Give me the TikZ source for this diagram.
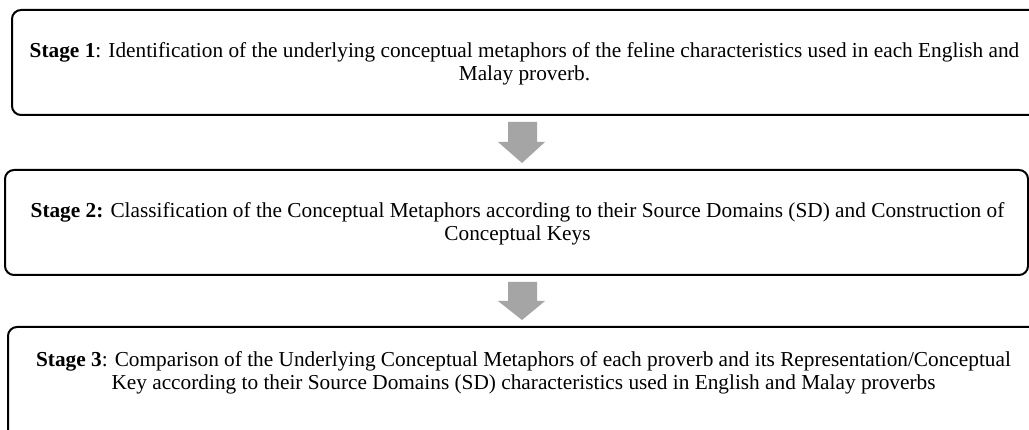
\documentclass[tikz,border=0pt]{standalone}
\usepackage{fontspec}
\setmainfont{Liberation Serif}
\definecolor{arrowgray}{HTML}{A5A5A5}
\tikzset{
  stagebox/.style={draw=black, line width=2pt, rounded corners=9pt},
  stagetext/.style={align=center, font=\fontsize{21.3}{23}\selectfont, inner sep=0pt},
  blockarrow/.style={fill=arrowgray, draw=none}
}
\begin{document}
\begin{tikzpicture}[x=1pt,y=1pt]
\useasboundingbox (0,0) rectangle (1029,-430);
\clip (0,0) rectangle (1029,-430);
\fill[white] (0,0) rectangle (1029,-430);
% boxes
\draw[stagebox] (12,-10) rectangle (1045,-115);
\draw[stagebox] (5,-170) rectangle (1028,-275);
\draw[stagebox] (8,-327) rectangle (1045,-445);
% texts
\node[stagetext] (t1) at (524.5,-63.5) {\textbf{Stage 1}: Identification of the underlying conceptual metaphors of the feline characteristics used in each English and\\ Malay proverb.};
\node[stagetext] (t2) at (517.5,-223.5) {\textbf{Stage 2:} Classification of the Conceptual Metaphors according to their Source Domains (SD) and Construction of\\ Conceptual Keys};
\node[stagetext] (t3) at (523.5,-372.5) {\textbf{Stage 3}: Comparison of the Underlying Conceptual Metaphors of each proverb and its Representation/Conceptual\\ Key according to their Source Domains (SD) characteristics used in English and Malay proverbs};
% block arrows
\fill[blockarrow] (508,-122) -- (537,-122) -- (537,-142) -- (545,-142) -- (522,-163) -- (498,-142) -- (508,-142) -- cycle;
\fill[blockarrow] (508,-282) -- (537,-282) -- (537,-301) -- (545,-301) -- (522,-320) -- (498,-301) -- (508,-301) -- cycle;
\end{tikzpicture}
\end{document}
